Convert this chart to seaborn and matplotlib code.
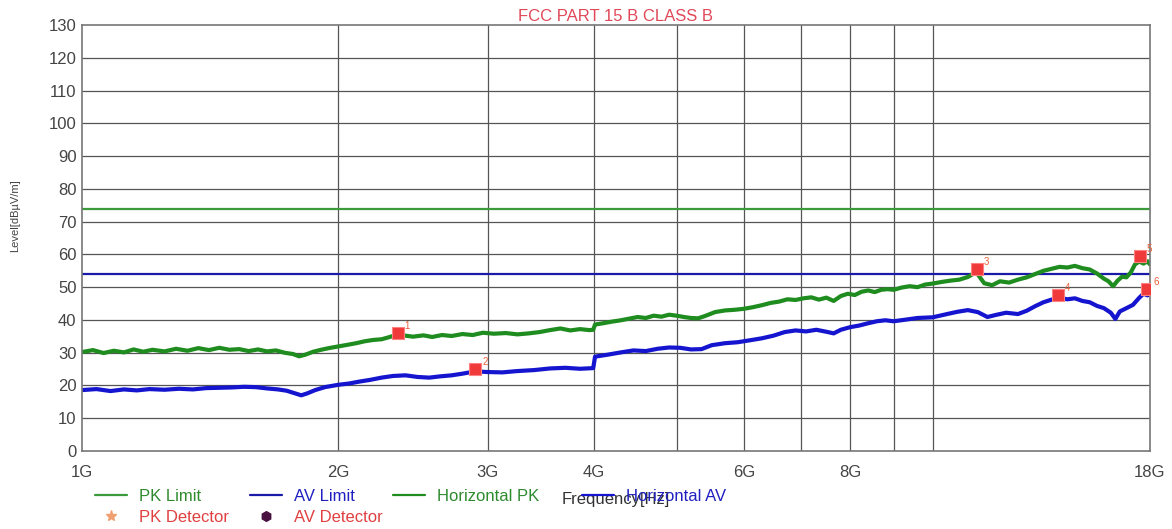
import matplotlib
matplotlib.use("Agg")
import matplotlib.pyplot as plt
from matplotlib.lines import Line2D
import seaborn as sns
import pandas as pd

sns.set_style("white")
plt.rcParams['font.family'] = ['Liberation Sans', 'DejaVu Sans']

# horizontal peak trace (GHz, dBuV/m)
pk_freq = [1.00, 1.03, 1.06, 1.09, 1.12, 1.15, 1.18, 1.21, 1.25, 1.29, 1.33, 1.37, 1.41, 1.45,
           1.49, 1.53, 1.57, 1.61, 1.65, 1.69, 1.73, 1.77, 1.80, 1.83, 1.87, 1.91, 1.95, 2.00,
           2.05, 2.10, 2.15, 2.20, 2.25, 2.30, 2.35, 2.40, 2.45, 2.52, 2.58, 2.65, 2.72, 2.80,
           2.88, 2.96, 3.05, 3.15, 3.25, 3.35, 3.45, 3.55, 3.65, 3.75, 3.85, 3.95, 3.99, 4.01,
           4.10, 4.20, 4.30, 4.40, 4.50, 4.60, 4.70, 4.80, 4.90, 5.00, 5.10, 5.20, 5.30, 5.40,
           5.55, 5.70, 5.85, 6.00, 6.15, 6.30, 6.45, 6.60, 6.75, 6.90, 7.05, 7.20, 7.35, 7.50,
           7.65, 7.80, 7.95, 8.10, 8.25, 8.40, 8.55, 8.70, 8.85, 9.00, 9.20, 9.40, 9.60, 9.80,
           10.00, 10.25, 10.50, 10.75, 11.00, 11.25, 11.50, 11.75, 12.00, 12.30, 12.60, 12.90,
           13.20, 13.50, 13.80, 14.10, 14.40, 14.70, 15.00, 15.30, 15.60, 15.90, 16.10, 16.30,
           16.50, 16.70, 16.90, 17.10, 17.30, 17.50, 17.70, 17.90, 18.00]
pk_level = [30.2, 30.8, 29.9, 30.6, 30.1, 31.0, 30.3, 30.9, 30.4, 31.2, 30.6, 31.4, 30.8, 31.5,
            30.9, 31.1, 30.5, 31.0, 30.4, 30.7, 30.0, 29.6, 28.9, 29.4, 30.3, 30.9, 31.4, 31.9,
            32.4, 32.9, 33.5, 33.9, 34.1, 34.8, 35.6, 35.2, 34.9, 35.3, 34.8, 35.4, 35.1, 35.7,
            35.4, 36.1, 35.8, 36.0, 35.6, 35.9, 36.3, 36.9, 37.4, 36.8, 37.2, 36.9, 37.0, 38.6,
            39.0, 39.5, 39.9, 40.4, 40.9, 40.6, 41.3, 41.0, 41.6, 41.3, 40.9, 40.6, 40.5, 41.2,
            42.4, 42.9, 43.1, 43.4, 43.9, 44.5, 45.2, 45.6, 46.3, 46.1, 46.6, 46.9, 46.2, 46.8,
            45.8, 47.3, 48.0, 47.6, 48.6, 49.0, 48.5, 49.2, 49.4, 49.2, 49.9, 50.3, 50.0, 50.8,
            51.1, 51.6, 52.0, 52.3, 53.1, 54.6, 51.2, 50.6, 51.8, 51.4, 52.3, 53.0,
            54.0, 55.0, 55.6, 56.2, 56.0, 56.5, 55.8, 55.4, 54.2, 52.6, 51.8, 50.3,
            52.0, 53.2, 53.0, 54.5, 57.0, 57.8, 57.2, 57.9, 57.0]

# horizontal average trace
av_freq = [1.00, 1.04, 1.08, 1.12, 1.16, 1.20, 1.25, 1.30, 1.35, 1.40, 1.45, 1.50, 1.55, 1.60,
           1.65, 1.70, 1.74, 1.78, 1.81, 1.84, 1.88, 1.93, 2.00, 2.06, 2.12, 2.18, 2.25, 2.32,
           2.40, 2.48, 2.56, 2.64, 2.72, 2.80, 2.90, 3.00, 3.12, 3.25, 3.40, 3.55, 3.70, 3.85,
           3.99, 4.01, 4.15, 4.30, 4.45, 4.60, 4.75, 4.90, 5.05, 5.20, 5.35, 5.50, 5.70, 5.90,
           6.10, 6.30, 6.50, 6.70, 6.90, 7.10, 7.30, 7.50, 7.65, 7.80, 8.00, 8.20, 8.40, 8.60,
           8.80, 9.00, 9.30, 9.60, 10.00, 10.40, 10.70, 11.00, 11.30, 11.60, 11.90, 12.20, 12.60,
           12.90, 13.20, 13.50, 13.80, 14.10, 14.40, 14.70, 15.00, 15.30, 15.60, 15.90, 16.20,
           16.40, 16.60, 16.90, 17.20, 17.50, 17.70, 17.90, 18.00]
av_level = [18.6, 18.9, 18.3, 18.8, 18.5, 18.9, 18.7, 19.0, 18.8, 19.2, 19.3, 19.4, 19.6, 19.5,
            19.1, 18.8, 18.4, 17.6, 17.0, 17.6, 18.6, 19.5, 20.2, 20.6, 21.2, 21.7, 22.4, 22.9,
            23.1, 22.6, 22.4, 22.8, 23.1, 23.6, 24.3, 24.1, 24.0, 24.4, 24.7, 25.2, 25.4, 25.1,
            25.3, 28.8, 29.4, 30.1, 30.7, 30.5, 31.2, 31.6, 31.5, 31.0, 31.1, 32.3, 32.9, 33.2,
            33.8, 34.4, 35.2, 36.3, 36.8, 36.5, 37.0, 36.4, 35.9, 37.0, 37.8, 38.3, 39.0, 39.6,
            39.9, 39.6, 40.1, 40.6, 40.8, 41.8, 42.5, 43.0, 42.4, 40.9, 41.6, 42.2, 41.8,
            42.8, 44.2, 45.4, 46.2, 46.8, 46.3, 46.6, 45.8, 45.4, 44.3, 43.6, 42.2,
            40.3, 42.6, 43.6, 44.6, 46.8, 48.0, 47.5, 48.5]

pk_limit = 74
av_limit = 54

# detector marks
mark_no = ['1', '2', '3', '4', '5', '6']
mark_freq = [2.35, 2.90, 11.27, 14.04, 17.52, 17.86]
mark_level = [36.0, 25.0, 55.5, 47.6, 59.5, 49.4]

tick_vals = [1, 2, 3, 4, 6, 8, 18]
tick_text = ['1G', '2G', '3G', '4G', '6G', '8G', '18G']

green = '#1f8c1f'
blue = '#1515d0'
lim_green = '#3c9a3c'
lim_blue = '#1a1aa8'

fig = plt.figure(figsize=(11.72, 5.29), dpi=100)
ax = fig.add_axes([0.070, 0.1474, 0.911, 0.8053])

ax.axhline(pk_limit, color=lim_green, lw=1.6)
ax.axhline(av_limit, color=lim_blue, lw=1.6)

pk_df = pd.DataFrame({'f': pk_freq, 'lv': pk_level})
av_df = pd.DataFrame({'f': av_freq, 'lv': av_level})
sns.lineplot(data=pk_df, x='f', y='lv', ax=ax, color=green, lw=3.0, estimator=None, sort=False)
sns.lineplot(data=av_df, x='f', y='lv', ax=ax, color=blue, lw=3.0, estimator=None, sort=False)

mk = pd.DataFrame({'f': mark_freq, 'lv': mark_level})
sns.scatterplot(data=mk, x='f', y='lv', ax=ax, marker='s', s=70, color='#f03a3a',
                edgecolor='#ff8080', linewidth=0.8, zorder=5)
for n, f, lv in zip(mark_no, mark_freq, mark_level):
    ax.annotate(n, (f, lv), xytext=(5, 3), textcoords='offset points',
                fontsize=7, color='#e8603a')

ax.set_xscale('log')
ax.set_xlim(1, 18)
ax.set_ylim(0, 130)
ax.set_yticks(range(0, 131, 10))
ax.set_xticks(tick_vals)
ax.set_xticklabels(tick_text)
ax.minorticks_off()
ax.tick_params(axis='both', labelsize=12, colors='#444444', length=0)
ax.tick_params(axis='y', pad=4)
ax.tick_params(axis='x', pad=10)

for yv in range(10, 130, 10):
    ax.axhline(yv, color='#555555', lw=0.9, zorder=0)
for xv in [2, 3, 4, 5, 6, 7, 8, 9, 10]:
    ax.axvline(xv, color='#555555', lw=0.9, zorder=0)
for sp in ax.spines.values():
    sp.set_color('#777777')
    sp.set_linewidth(1.2)

ax.set_xlabel('Frequency[Hz]', fontsize=12, color='#333333', labelpad=9)
ax.set_ylabel('Level[dBµV/m]', fontsize=8, color='#444444')
ax.yaxis.set_label_coords(-0.058, 0.552)
ax.set_title('FCC PART 15 B CLASS B', fontsize=12, color='#e04858', pad=3)

# legend: four single-column groups placed along the bottom
groups = [
    ([Line2D([], [], color=lim_green, lw=1.6),
      Line2D([], [], color='#f0a070', marker='*', ls='none', markersize=8)],
     ['PK Limit', 'PK Detector'], ['#2e8b2e', '#e04040'], 95),
    ([Line2D([], [], color=lim_blue, lw=1.6),
      Line2D([], [], color='#4a1040', marker='h', ls='none', markersize=7)],
     ['AV Limit', 'AV Detector'], ['#2020c0', '#e04040'], 250),
    ([Line2D([], [], color=green, lw=1.6)], ['Horizontal PK'], ['#2e8b2e'], 393),
    ([Line2D([], [], color=blue, lw=1.6)], ['Horizontal AV'], ['#2020c0'], 582),
]
for hs, labs, cols, x0 in groups:
    leg = fig.legend(hs, labs, loc='upper left', bbox_to_anchor=(x0 / 1172, 1 - 489 / 529),
                     frameon=False, fontsize=12, handlelength=1.9, labelspacing=0.33,
                     handletextpad=0.75, borderaxespad=0, borderpad=0)
    for t, c in zip(leg.get_texts(), cols):
        t.set_color(c)

fig.savefig('out.png', dpi=100)
